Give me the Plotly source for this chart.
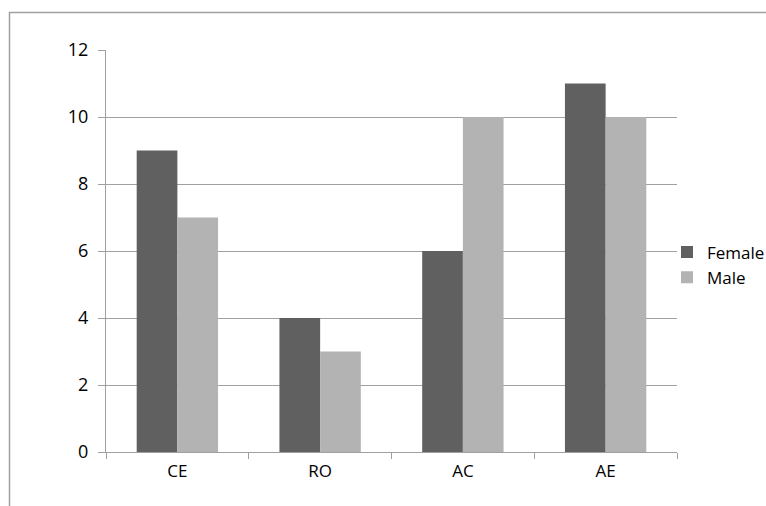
import plotly.graph_objects as go

categories = ["CE", "RO", "AC", "AE"]
female = [9, 4, 6, 11]
male = [7, 3, 10, 10]
y_ticks = [0, 2, 4, 6, 8, 10, 12]

W, H = 766, 506
L, R, T, B = 106, 89, 50, 54
pw, ph = W - L - R, H - T - B

fig = go.Figure()
fig.add_bar(x=categories, y=female, name="Female", marker_color="#606060", marker_line_width=0)
fig.add_bar(x=categories, y=male, name="Male", marker_color="#b3b3b3", marker_line_width=0)

fam = "Open Sans, Liberation Sans, sans-serif"

fig.update_layout(
    width=W, height=H,
    margin=dict(l=L, r=R, t=T, b=B, pad=0, autoexpand=False),
    paper_bgcolor="white", plot_bgcolor="white",
    barmode="group", bargap=0.43, bargroupgap=0,
    font=dict(family=fam, size=17, color="#000000"),
    showlegend=True,
    legend=dict(x=(667 - L) / pw, xanchor="left", y=(452 - 265) / ph, yanchor="middle",
                font=dict(size=17, family=fam, color="#000"),
                tracegroupgap=0, bgcolor="rgba(0,0,0,0)"),
    xaxis=dict(showline=True, linecolor="#a0a0a0", linewidth=1, ticks="outside",
               tickson="boundaries", ticklen=6, tickcolor="#a0a0a0", showgrid=False,
               tickfont=dict(size=17), zeroline=False, ticklabelstandoff=4),
    yaxis=dict(range=[0, 12], tickvals=y_ticks, showline=True, linecolor="#a0a0a0", linewidth=1,
               ticks="outside", ticklen=7, tickcolor="#a0a0a0", showgrid=True,
               gridcolor="#a0a0a0", gridwidth=1, zeroline=False, tickfont=dict(size=18),
               ticklabelstandoff=6),
    shapes=[dict(type="rect", xref="paper", yref="paper",
                 x0=(9.5 - L) / pw, x1=1.5, y0=-0.5, y1=1 + (T - 12.5) / ph,
                 line=dict(color="#a0a0a0", width=1.5), fillcolor="rgba(0,0,0,0)", layer="below")],
)

fig.write_html("out.html", config={"displayModeBar": False},
               post_script="document.body.style.margin='0';document.body.style.overflow='hidden';")
